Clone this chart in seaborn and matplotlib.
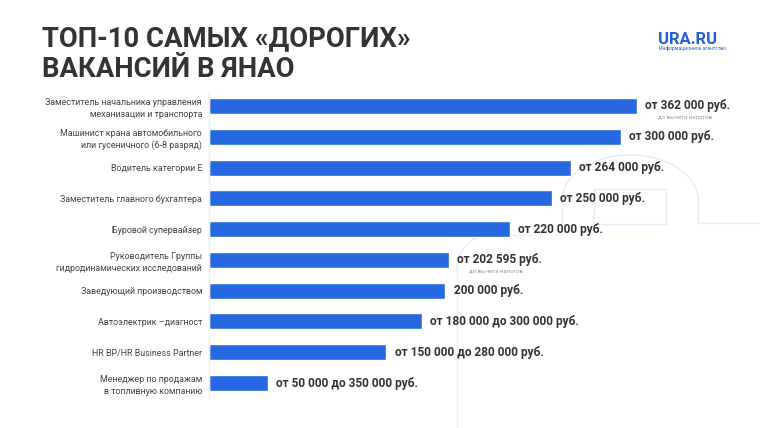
import matplotlib
matplotlib.use("Agg")
import matplotlib.pyplot as plt
from matplotlib.patches import Arc, Rectangle
import pandas as pd
import seaborn as sns

# данные
categories = [
    "Заместитель начальника управления\nмеханизации и транспорта",
    "Машинист крана автомобильного\nили гусеничного (6-8 разряд)",
    "Водитель категории Е",
    "Заместитель главного бухгалтера",
    "Буровой супервайзер",
    "Руководитель Группы\nгидродинамических исследований",
    "Заведующий производством",
    "Автоэлектрик –диагност",
    "HR BP/HR Business Partner",
    "Менеджер по продажам\nв топливную компанию",
]
# длина полос в том виде, как они нарисованы (руб.)
bar_len = [362000, 348500, 306000, 290000, 254500, 202595, 200000, 180000, 150000, 50000]
value_labels = [
    "от 362 000 руб.",
    "от 300 000 руб.",
    "от 264 000 руб.",
    "от 250 000 руб.",
    "от 220 000 руб.",
    "от 202 595 руб.",
    "200 000 руб.",
    "от 180 000 до 300 000 руб.",
    "от 150 000 до 280 000 руб.",
    "от 50 000 до 350 000 руб.",
]
notes = ["до вычета налогов", "", "", "", "", "до вычета налогов", "", "", "", ""]

df = pd.DataFrame({"cat": categories, "val": bar_len})

sns.set_style("white")
plt.rcParams["font.family"] = ["Roboto", "DejaVu Sans"]

W, H = 760, 428
fig = plt.figure(figsize=(W / 100, H / 100), dpi=100)
fig.patch.set_facecolor("white")


def px(x, y):
    return (x / W, 1 - y / H)


# фоновые декоративные линии (под графиком)
deco = "#e4ecfb"
tr = fig.transFigure
kw = dict(color=deco, lw=1, transform=tr, zorder=-5)
fig.add_artist(plt.Line2D([457 / W, 457 / W], [0, 1 - 268 / H], **kw))
fig.add_artist(Arc(px(490, 268), 66 / W, 66 / H, theta1=90, theta2=180, **kw))
fig.add_artist(plt.Line2D([490 / W, 530 / W], [1 - 235 / H] * 2, **kw))
fig.add_artist(plt.Line2D([562 / W, 562 / W], [1 - 223 / H, 1 - 200 / H], **kw))
fig.add_artist(plt.Line2D([698 / W, 698 / W], [1 - 223 / H, 1 - 200 / H], **kw))
fig.add_artist(Arc(px(630, 200), 136 / W, 90 / H, theta1=0, theta2=180, **kw))
fig.add_artist(plt.Line2D([698 / W, 1], [1 - 223 / H] * 2, **kw))
fig.add_artist(Rectangle(px(594, 224), 72 / W, 35 / H, fill=False, ec=deco, lw=1,
                         transform=tr, zorder=-5))

ax = fig.add_axes([209 / W, 1 - 398.4 / H, 1 - 209 / W, (398.4 - 90.6) / H])
ax.patch.set_alpha(0)
sns.barplot(data=df, x="val", y="cat", orient="h", color="#2668e0", width=0.52,
            saturation=1, ax=ax)
ax.set_xlim(0, 466000)
ax.set_ylim(9.5, -0.5)

for i, (v, lab, note) in enumerate(zip(bar_len, value_labels, notes)):
    ax.annotate(lab, (v, i), xytext=(6, 0), textcoords="offset points",
                ha="left", va="center", fontsize=8.6, fontweight="bold", color="#333333")
    if note:
        ax.annotate(note, (v, i), xytext=(15, -7.5), textcoords="offset points",
                    ha="left", va="center", fontsize=4.3, color="#9a9a9a")

ax.set_xlabel("")
ax.set_ylabel("")
ax.set_xticks([])
ax.tick_params(axis="y", length=0, pad=5)
for t in ax.get_yticklabels():
    t.set_fontsize(6.4)
    t.set_color("#444444")
    t.set_linespacing(1.45)
for s in ["top", "right", "bottom"]:
    ax.spines[s].set_visible(False)
ax.spines["left"].set_color("#eeeeee")
ax.spines["left"].set_linewidth(1)

# заголовок
fig.text(42 / W, 1 - 46 / H, "ТОП-10 САМЫХ «ДОРОГИХ»", fontsize=19.8, fontweight="bold",
         color="#333333", va="baseline")
fig.text(42 / W, 1 - 77 / H, "ВАКАНСИЙ В ЯНАО", fontsize=19.8, fontweight="bold",
         color="#333333", va="baseline")

# логотип
fig.text(658 / W, 1 - 44 / H, "URA.RU", fontsize=12, fontweight="bold", color="#2a5fdc",
         va="baseline")
fig.text(659 / W, 1 - 50 / H, "Информационное агентство", fontsize=3.6, color="#2a5fdc",
         va="baseline")

fig.savefig("out.png", dpi=100)
